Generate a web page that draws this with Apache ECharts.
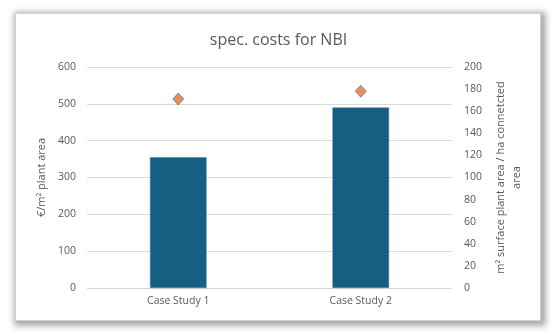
<!DOCTYPE html>
<html>
<head>
<meta charset="utf-8">
<script src="https://cdn.jsdelivr.net/npm/echarts@6/dist/echarts.min.js"></script>
<style>
  html, body { margin: 0; padding: 0; background: #ffffff; }
  #frame {
    position: absolute; left: 15px; top: 13px; width: 524px; height: 306px;
    border: 1px solid #d0d0d0; background: #ffffff;
    box-shadow: 2px 2px 6px 3px rgba(0,0,0,0.33);
  }
  #chart { position: absolute; left: 0; top: 0; width: 557px; height: 336px; }
</style>
</head>
<body>
<div id="frame"></div>
<div id="chart"></div>
<script>
// Case studies and their values
const categories = ['Case Study 1', 'Case Study 2'];
const costPerM2 = [355, 490];          // €/m² plant area (bars, left axis)
const surfacePerHa = [171, 178];       // m² surface plant area / ha connected area (diamonds, right axis)

const leftTicks = { min: 0, max: 600, interval: 100 };
const rightTicks = { min: 0, max: 200, interval: 20 };

const textColor = '#595959';
const font = 'Open Sans';

const chart = echarts.init(document.getElementById('chart'), null, { renderer: 'canvas' });
chart.setOption({
  backgroundColor: 'transparent',
  animation: false,
  title: {
    text: 'spec. costs for NBI',
    left: 'center',
    top: 27,
    textStyle: { color: textColor, fontFamily: font, fontSize: 16, fontWeight: 'normal' }
  },
  grid: { left: 87, right: 105, top: 67, bottom: 48 },
  xAxis: {
    type: 'category',
    data: categories,
    axisTick: { show: false },
    axisLine: { lineStyle: { color: '#d9d9d9' } },
    axisLabel: { color: textColor, fontFamily: font, fontSize: 10.5, margin: 8 }
  },
  yAxis: [
    {
      type: 'value',
      min: leftTicks.min, max: leftTicks.max, interval: leftTicks.interval,
      name: '€/m² plant area',
      nameLocation: 'middle',
      nameRotate: 90,
      nameGap: 37,
      nameTextStyle: { color: textColor, fontFamily: font, fontSize: 11 },
      axisLabel: { color: textColor, fontFamily: font, fontSize: 10.5, margin: 11 },
      axisLine: { show: false },
      axisTick: { show: false },
      splitLine: { lineStyle: { color: '#d9d9d9' } }
    },
    {
      type: 'value',
      position: 'right',
      min: rightTicks.min, max: rightTicks.max, interval: rightTicks.interval,
      name: 'm² surface plant area / ha connetcted\narea',
      nameLocation: 'middle',
      nameRotate: 90,
      nameGap: 38,
      nameTextStyle: { color: textColor, fontFamily: font, fontSize: 11, lineHeight: 16, align: 'center' },
      axisLabel: { color: textColor, fontFamily: font, fontSize: 10.5, margin: 12 },
      axisLine: { show: false },
      axisTick: { show: false },
      splitLine: { show: false }
    }
  ],
  series: [
    {
      type: 'bar',
      yAxisIndex: 0,
      data: costPerM2,
      barWidth: '31%',
      itemStyle: { color: '#156082', borderColor: '#3a7fa0', borderWidth: 0.5 }
    },
    {
      type: 'scatter',
      yAxisIndex: 1,
      data: surfacePerHa,
      symbol: 'diamond',
      symbolSize: [11, 12],
      itemStyle: { color: '#E97132', borderColor: '#2a6f90', borderWidth: 0.8 }
    }
  ]
});
</script>
</body>
</html>
